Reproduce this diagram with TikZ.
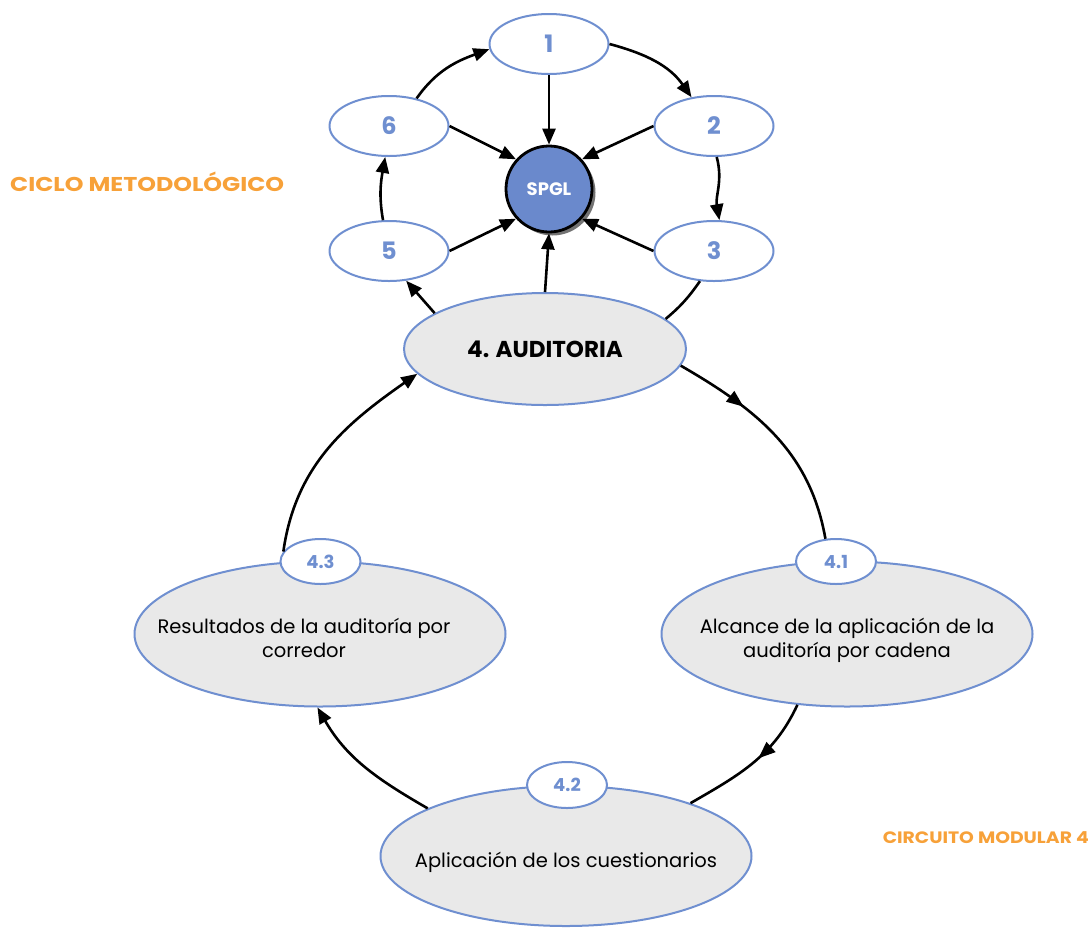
\documentclass[tikz,border=0pt]{standalone}
\usepackage{fontspec}
\setmainfont{Poppins}
\usetikzlibrary{arrows.meta,shapes.geometric,shadows,decorations.markings}
\definecolor{ringblue}{RGB}{111,143,208}
\definecolor{hubblue}{RGB}{106,137,204}
\definecolor{softgray}{RGB}{233,233,233}
\definecolor{labelorange}{RGB}{247,161,57}
% centred text block that does not enlarge its ellipse
\newcommand\phasetext[2][0pt]{\raisebox{-12pt}[0pt][0pt]{\makebox[0pt]{\begin{tabular}{@{}c@{}}#2\end{tabular}\hspace{#1}}}}
\newcommand\widetitle[2]{\scalebox{#1}[1]{#2}}
\begin{document}
\begin{tikzpicture}[x=1pt,y=1pt,
  stage/.style={ellipse,draw=ringblue,line width=2pt,fill=white,
    minimum width=119pt,minimum height=60pt,inner sep=0pt,
    text=ringblue,font=\fontsize{24}{28}\selectfont\bfseries},
  phase/.style={ellipse,draw=ringblue,line width=2pt,fill=softgray,
    minimum width=371pt,minimum height=145pt,inner sep=0pt,
    font=\fontsize{19.5}{23.5}\selectfont},
  tag/.style={ellipse,draw=ringblue,line width=2pt,fill=white,
    minimum width=80pt,minimum height=45pt,inner sep=0pt,
    text=ringblue,font=\fontsize{18}{20}\selectfont\bfseries},
  link/.style={line width=2.6pt,-{Triangle[length=16pt,width=13pt]}},
  bare/.style={line width=2.6pt},
  midarrow/.style={line width=2.6pt,postaction={decorate},
    decoration={markings,mark=at position #1 with {\arrow{Triangle[length=17pt,width=13pt]}}}},
  title/.style={text=labelorange,font=\fontsize{20}{24}\selectfont\bfseries,inner sep=0pt}
]
\useasboundingbox (0,0) rectangle (1091,-927);

% methodological cycle around the hub
\node[stage] (n1) at (549,-44) {1};
\node[stage] (n2) at (714,-126) {2};
\node[stage] (n3) at (714,-251) {3};
\node[stage] (n5) at (389,-251) {5};
\node[stage] (n6) at (389,-126) {6};
\node[circle,draw=black,line width=2.8pt,fill=hubblue,minimum size=86pt,inner sep=0pt,
      text=white,font=\fontsize{18}{20}\selectfont\bfseries,
      drop shadow={shadow xshift=3.5pt,shadow yshift=-3.5pt,fill=black!55,opacity=1}]
      (hub) at (549,-189) {SPGL};
\node[phase,minimum width=282pt,minimum height=112pt,
      font=\fontsize{23}{28}\selectfont\bfseries] (aud) at (545,-349) {4. AUDITORIA};

% audit sub-circuit
\node[phase] (b41) at (847,-634) {\phasetext{Alcance de la aplicación de la\\auditoría por cadena}};
\node[phase] (b43) at (320,-634) {\phasetext[32pt]{Resultados de la auditoría por\\corredor}};
\node[phase,minimum height=140pt] (b42) at (566,-856) {\phasetext{Aplicación de los cuestionarios}};
\node[tag] (s41) at (836,-561.5) {4.1};
\node[tag] (s43) at (320.5,-561.5) {4.3};
\node[tag,minimum height=46pt] (s42) at (567,-785) {4.2};

% section titles
\node[title,anchor=west] (t1) at (10,-182) {\widetitle{1.19}{CICLO METODOLÓGICO}};
\node[title,anchor=east,font=\fontsize{16.5}{20}\selectfont\bfseries] (t2) at (1089,-838)
      {\widetitle{1.14}{CIRCUITO MODULAR 4}};

% outer cycle
\draw[link] (n1.east) to[out=-15,in=125] (n2.128);
\draw[link] (n2.-85) to[out=-75,in=100] (n3.80);
\draw[bare] (n3.-115) to[out=-125,in=40] (aud.14);
\draw[link] (aud.162) -- (n5.-60);
\draw[link] (n5.101) to[out=100,in=-100] (n6.-97);
\draw[link] (n6.45) to[out=55,in=200] (n1.185);

% spokes into the hub
\draw[link] (n1.south) -- (hub.north);
\draw[link] (n2.west) -- (hub.42);
\draw[link] (n3.west) -- (hub.-42);
\draw[link] (n6.east) -- (hub.138);
\draw[link] (n5.east) -- (hub.-138);
\draw[link] (aud.north) -- (hub.south);

% audit circuit
\draw[midarrow=0.32] (aud.-7) to[out=-30,in=100] (s41.115);
\draw[midarrow=0.45] (b41.-125) to[out=-115,in=30] (b42.23);
\draw[link] (b42.161) to[out=150,in=-60] (b43.-92);
\draw[link] (s43.165) to[out=82,in=-145] (aud.191);
\end{tikzpicture}
\end{document}
